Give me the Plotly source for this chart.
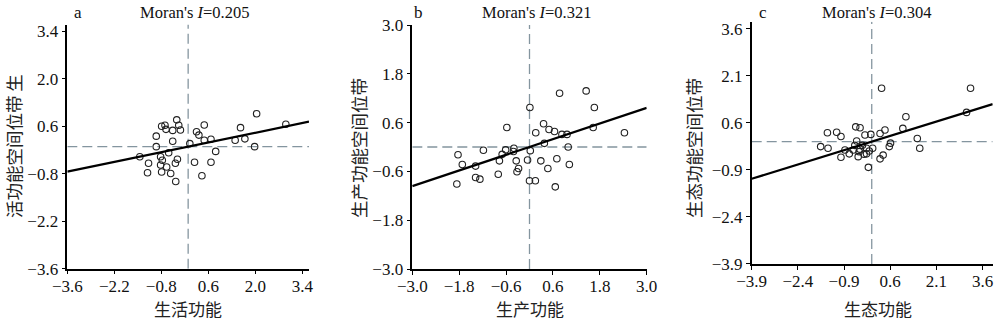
import plotly.graph_objects as go

# Moran scatter data: standardized function value (x) vs spatial lag (y)
panels = ["a", "b", "c"]
moran_i = [0.205, 0.321, 0.304]

a_x = [-0.34, -0.28, -0.23, -0.79, -0.69, -0.66, -0.46, -0.95, -0.46, -0.95,
       -0.58, -0.82, -0.77, -0.32, -0.38, -0.82, -1.18, -0.64, -1.21, -0.79,
       -0.52, -0.37, 0.05, 0.25, 0.32, 0.48, 0.48, 0.68, 0.82, 0.19,
       0.68, 0.41, 1.40, 1.56, 1.69, 1.98, 2.04, -1.44, 2.91]
a_y = [0.79, 0.63, 0.49, 0.60, 0.63, 0.51, 0.48, 0.31, 0.16, 0.00,
       -0.18, -0.30, -0.40, -0.37, -0.49, -0.54, -0.49, -0.60, -0.77, -0.75,
       -0.79, -1.03, 0.09, 0.44, 0.34, 0.64, 0.19, 0.22, -0.14, -0.46,
       -0.46, -0.86, 0.19, 0.56, 0.23, 0.00, 0.97, -0.30, 0.66]

b_x = [0.77, 1.45, 1.66, 0.01, -0.58, 0.16, 0.36, 0.50, 0.64, 0.83,
       0.96, 1.63, 2.43, 0.99, 0.38, -1.18, -1.83, -1.72, -1.38, -0.70,
       -0.61, -0.40, -0.41, -0.77, -0.34, -0.05, 0.02, 0.29, 0.70, 0.47,
       1.02, -0.28, -0.32, -0.80, -1.38, -1.27, -1.86, 0.00, 0.15, 0.66]
b_y = [1.32, 1.38, 0.97, 0.97, 0.48, 0.35, 0.57, 0.43, 0.38, 0.31,
       0.31, 0.48, 0.35, 0.00, 0.09, -0.08, -0.19, -0.43, -0.47, -0.18,
       -0.07, -0.03, -0.11, -0.34, -0.34, -0.32, -0.09, -0.34, -0.29, -0.53,
       -0.43, -0.53, -0.61, -0.67, -0.75, -0.79, -0.91, -0.83, -0.83, -0.98]

c_x = [0.32, 3.21, 3.08, 1.11, 1.01, -0.52, -0.38, -1.14, -1.00, -0.22,
       -0.03, 0.27, 0.43, -0.49, -1.66, -1.42, -0.87, -0.60, -0.38, -0.17,
       0.03, 0.61, 0.57, 1.48, 1.56, -1.00, -0.73, -0.44, -0.17, -0.41,
       0.27, 0.37, -0.11, -1.44, -0.30, -0.55, -0.08, -0.25]
c_y = [1.70, 1.70, 0.93, 0.79, 0.42, 0.47, 0.44, 0.30, 0.16, 0.21,
       0.23, 0.26, 0.37, 0.02, -0.16, -0.21, -0.27, -0.27, -0.24, -0.21,
       -0.21, -0.05, -0.16, 0.10, -0.21, -0.50, -0.39, -0.48, -0.39, -0.32,
       -0.55, -0.43, -0.82, 0.28, -0.12, -0.12, -0.30, -0.40]

x_titles = ["生活功能", "生产功能", "生态功能"]
y_titles = ["活功能空间位带 生", "生产功能空间位带", "生态功能空间位带"]

x_ticks = [[-3.6, -2.2, -0.8, 0.6, 2.0, 3.4],
           [-3.0, -1.8, -0.6, 0.6, 1.8, 3.0],
           [-3.9, -2.4, -0.9, 0.6, 2.1, 3.6]]
y_ticks = [[-3.6, -2.2, -0.8, 0.6, 2.0, 3.4],
           [-3.0, -1.8, -0.6, 0.6, 1.8, 3.0],
           [-3.9, -2.4, -0.9, 0.6, 2.1, 3.6]]
x_ranges = [[-3.6, 3.6], [-3.0, 3.0], [-3.9, 3.93]]
y_ranges = [[-3.6, 3.6], [-3.0, 3.0], [-3.9, 3.82]]

# Layout of the three panels in paper coordinates
x_domains = [[0.0673, 0.309], [0.4123, 0.6467], [0.7517, 0.9927]]
y_domains = [[0.1758, 0.9245], [0.1748, 0.9233], [0.1902, 0.9334]]
ytitle_x = [0.013, 0.358, 0.693]
ytitle_y = [0.552, 0.546, 0.546]
letter_x = [0.078, 0.418, 0.763]
title_x = [0.1945, 0.5367, 0.8767]

xs = [a_x, b_x, c_x]
ys = [a_y, b_y, c_y]

SERIF = "'Liberation Serif', 'Times New Roman', serif"
CJK = "'Noto Sans CJK SC', sans-serif"
DASH = "#84959f"

fig = go.Figure()
shapes = []
annotations = []

for i in range(3):
    sfx = "" if i == 0 else str(i + 1)
    xa, ya = "x" + sfx, "y" + sfx
    x0, x1 = x_ranges[i]
    y0, y1 = y_ranges[i]

    # quadrant reference lines through the origin
    shapes.append(dict(type="line", xref=xa, yref=ya, x0=0, x1=0, y0=y0, y1=y1,
                       line=dict(color=DASH, width=1.3, dash="10px,5px"), layer="below"))
    shapes.append(dict(type="line", xref=xa, yref=ya, x0=x0, x1=x1, y0=0, y1=0,
                       line=dict(color=DASH, width=1.3, dash="10px,5px"), layer="below"))

    fig.add_trace(go.Scatter(
        x=xs[i], y=ys[i], mode="markers", xaxis=xa, yaxis=ya,
        marker=dict(symbol="circle-open", size=6.5, color="#222222", line=dict(width=1.1)),
        showlegend=False, hoverinfo="x+y"))

    # fitted line, slope equals Moran's I
    fig.add_trace(go.Scatter(
        x=[x0, x1], y=[moran_i[i] * x0, moran_i[i] * x1], mode="lines",
        xaxis=xa, yaxis=ya, line=dict(color="black", width=2.2),
        showlegend=False, hoverinfo="skip"))

    axis_common = dict(showgrid=False, zeroline=False, showline=True,
                       linecolor="black", linewidth=1.5, ticks="outside",
                       ticklen=4, tickwidth=1.2, tickcolor="black",
                       tickfont=dict(family=SERIF, size=17, color="#111111"),
                       tickformat=".1f", fixedrange=True, automargin=False)
    fig.layout["xaxis" + sfx] = dict(axis_common, domain=x_domains[i], range=x_ranges[i],
                                     tickvals=x_ticks[i], anchor=ya, ticklabelstandoff=-3)
    fig.layout["yaxis" + sfx] = dict(axis_common, domain=y_domains[i], range=y_ranges[i],
                                     tickvals=y_ticks[i], anchor=xa)

    annotations.append(dict(text=panels[i], x=letter_x[i], y=1 - 12 / 326, xref="paper",
                            yref="paper", showarrow=False, xanchor="center", yanchor="middle",
                            font=dict(family=SERIF, size=17, color="#111111")))
    annotations.append(dict(text=f"Moran's <i>I</i>={moran_i[i]:.3f}", x=title_x[i],
                            y=1 - 12 / 326, xref="paper", yref="paper", showarrow=False,
                            xanchor="center", yanchor="middle",
                            font=dict(family=SERIF, size=16.5, color="#111111")))
    annotations.append(dict(text=x_titles[i], x=(x_domains[i][0] + x_domains[i][1]) / 2
                            + (0.006 if i == 2 else 0), y=1 - 308 / 326,
                            xref="paper", yref="paper", showarrow=False,
                            xanchor="center", yanchor="middle",
                            font=dict(family=CJK, size=17, color="#222222")))
    annotations.append(dict(text=y_titles[i], x=ytitle_x[i], y=ytitle_y[i], xref="paper",
                            yref="paper", showarrow=False, textangle=-90,
                            xanchor="center", yanchor="middle",
                            font=dict(family=CJK, size=17.5, color="#222222")))

fig.update_layout(
    width=1000, height=326,
    margin=dict(l=0, r=0, t=0, b=0, pad=0, autoexpand=False),
    paper_bgcolor="white", plot_bgcolor="white",
    shapes=shapes, annotations=annotations,
    showlegend=False,
)

fig.write_html("out.html", config={"displayModeBar": False})
